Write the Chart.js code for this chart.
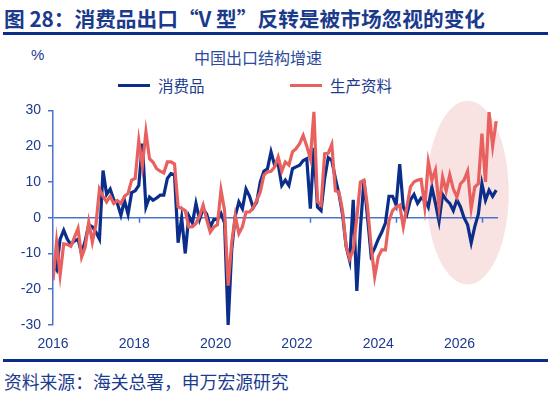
<!DOCTYPE html>
<html>
<head>
<meta charset="utf-8">
<script src="https://cdn.jsdelivr.net/npm/chart.js@4.4.1/dist/chart.umd.min.js"></script>
<style>
  body { margin: 0; background: #fff; }
  #page { position: relative; width: 551px; height: 396px; overflow: hidden; font-family: "Noto Sans CJK SC", "Liberation Sans", sans-serif; color: #1c3b8e; }
  #title { position: absolute; left: 4px; top: 3px; font-size: 20.7px; font-weight: bold; white-space: nowrap; color: #1a3a8c; }
  .rule { position: absolute; left: 3px; width: 545px; height: 3px; background: #0a2d8c; }
  #unit { position: absolute; left: 31px; top: 46px; font: 15px "Liberation Sans", sans-serif; }
  #subtitle { position: absolute; left: 194px; top: 45px; font-size: 16px; white-space: nowrap; color: #2b4a9c; }
  .lg { position: absolute; top: 74px; font-size: 15.5px; white-space: nowrap; color: #1c3b8e; }
  .lg i { display: inline-block; width: 32px; height: 3px; vertical-align: middle; margin-right: 8px; position: relative; top: -2px; }
  #wrap { position: absolute; left: 0; top: 95px; width: 551px; height: 257px; }
  #source { position: absolute; left: 4px; top: 368px; font-size: 17.8px; white-space: nowrap; color: #1c3b8e; }
</style>
</head>
<body>
<div id="page">
  <div id="title">图 28：消费品出口“V 型”反转是被市场忽视的变化</div>
  <div class="rule" style="top:32px"></div>
  <div id="unit">%</div>
  <div id="subtitle">中国出口结构增速</div>
  <div class="lg" style="left:118px"><i style="background:#0b2e8a"></i>消费品</div>
  <div class="lg" style="left:290px"><i style="background:#e8615f"></i>生产资料</div>
  <div id="wrap"><canvas id="chart"></canvas></div>
  <div class="rule" style="top:359px"></div>
  <div id="source">资料来源：海关总署，申万宏源研究</div>
</div>

<script>
// ── 数据 ─────────────────────────────────────────
const startYear = 2016;
const yearLabels = ['2016', '2018', '2020', '2022', '2024', '2026'];

// 消费品出口增速（%），月度
const consumerGoods = [
  -12.8, -14.5, -6, -3.5, -6, -7.5, -6.5, -6, -10, -6.5, -2, -2.5,
  -4, -6, 13.2, 6.5, 8, 5, 4, 0.7, 4.8, 1, 7, 7.5,
  9, 20.7, 3, 5.8, 4.9, 5.5, 6.3, 6.3, 11, 12.3, 12, -7,
  0, -10, 0.5, -1.5, 4, -0.5, 2.5, 1, -2.6, -0.5, -0.5, 1.2,
  -1.5, -30, -9, 0.5, 4.4, 2.5, 8, 6, 2.8, 4.4, 10, 13,
  13.7, 18.4, 14.7, 15, 9, 10.5, 9, 13.7, 14.2, 14.7, 16, 16.5,
  2.5, 19.5, 3, 2, 11, 16.8, 16, 11, 6.7, 1, -8, -12,
  5, -20.5, -3, 10.5, 0, -10.5, -8.5, -6, -4, -1.5, 6, 6,
  3.5, 15, 3, 1, 5, 6.5, 4, 5.5, 5, 3, 8.5, 4,
  -1, 6.5, 5, 4, 2, 5, 3, 0, -2, -7, -2.5, 1,
  9.5, 4.9, 7.7, 6, 7.7
];

// 生产资料出口增速（%），月度
const capitalGoods = [
  -17.5, -6.8, -16, -7.3, -7.5, -8, -5.5, -3, -11, -8.2, -1.2, -6.8,
  -2, 8, 6, 4.4, 6, 4, 4.8, 4, 6, 6.8, 10.5, 11,
  21.6, 14.5, 24, 16.5, 15.5, 13.7, 13, 12.5, 15.6, 15.6, 15, 3,
  2.6, 2, -2.6, -2.5, -1.6, 0.5, 3.5, -0.5, -4, -2.6, -2, 7.7,
  2, -19, -7, 0.5, -4.4, -2.5, 1.6, 1.6, 2.8, 4.9, 7.2, 11.9,
  12.8, 13, 14.2, 17, 13, 15.6, 14.7, 18.4, 19.3, 20.7, 23, 20,
  16.5, 29.6, 4.5, 3.5, 17.9, 18, 20.5, 7.5, 7.2, 2, -8, -11.5,
  -9, 0, 10, 10.5, 3, -8, -16.5, -11, -9, -9, -1, 2,
  3, 3.5, -2.5, 3, 8.6, 10, 10.5, 10.7, 3, 15.6, 10.5, 13.3,
  3, 11.4, 7.5, 12, 8, 5.8, 9.5, 10.5, 13, 2.6, 8.6, 9.5,
  23.5, 10, 29.5, 20, 27
];

const yTicks = [-30, -20, -10, 0, 10, 20, 30];

// 月份类别
const months = consumerGoods.map((_, i) =>
  `${startYear + Math.floor(i / 12)}-${String(i % 12 + 1).padStart(2, '0')}`);

// ── 样式 ─────────────────────────────────────────
const AXIS_BLUE = '#4a74cc';
const TEXT_BLUE = '#1c3b8e';
const LABEL_STEP = 22.75;   // 参考图中年份标签的间距（月）

// 右侧粉色椭圆高亮
const highlightPlugin = {
  id: 'highlight',
  beforeDraw(chart) {
    const { ctx, scales: { x, y } } = chart;
    const cx = x.getPixelForValue(116), cy = y.getPixelForValue(7);
    const rx = x.getPixelForValue(116 + 11.5) - cx;
    const ry = y.getPixelForValue(0) - y.getPixelForValue(25.7);
    ctx.save();
    ctx.fillStyle = '#f9e2e2';
    ctx.beginPath();
    ctx.ellipse(cx, cy, rx, ry, 0, 0, Math.PI * 2);
    ctx.fill();
    ctx.restore();
  }
};

// 零轴上的小刻度（每两年）
const zeroTicksPlugin = {
  id: 'zeroTicks',
  beforeDatasetsDraw(chart) {
    const { ctx, scales: { x, y } } = chart;
    const y0 = y.getPixelForValue(0);
    ctx.save();
    ctx.strokeStyle = AXIS_BLUE;
    ctx.lineWidth = 1.5;
    yearLabels.forEach((_, i) => {
      if (i === 0) return;
      const px = Math.round(x.getPixelForValue(i * 24)) + 0.5;
      ctx.beginPath();
      ctx.moveTo(px, y0);
      ctx.lineTo(px, y0 + 5);
      ctx.stroke();
    });
    ctx.restore();
  }
};

new Chart(document.getElementById('chart'), {
  type: 'line',
  data: {
    labels: months,
    datasets: [
      {
        label: '消费品',
        data: consumerGoods.map((v, i) => ({ x: i, y: v })),
        borderColor: '#0b2e8a',
        borderWidth: 3.2,
        pointRadius: 0,
        tension: 0,
        order: 2,
      },
      {
        label: '生产资料',
        data: capitalGoods.map((v, i) => ({ x: i, y: v })),
        borderColor: '#e8615f',
        borderWidth: 3.2,
        pointRadius: 0,
        tension: 0,
        order: 1,
      },
    ],
  },
  options: {
    responsive: true,
    maintainAspectRatio: false,
    animation: false,
    layout: { padding: { top: 15, right: 53, left: 0, bottom: 0 } },
    plugins: { legend: { display: false }, tooltip: { enabled: false } },
    scales: {
      x: {
        type: 'linear',
        min: 0,
        max: 124.5,
        grid: { display: false },
        border: { display: false },
        afterBuildTicks: s => { s.ticks = yearLabels.map((_, i) => ({ value: i * LABEL_STEP })); },
        afterFit: s => { s.height = 27; },
        ticks: {
          color: TEXT_BLUE,
          padding: 3,
          maxRotation: 0,
          autoSkip: false,
          font: { family: 'Liberation Sans', size: 14 },
          callback: (v, i) => yearLabels[i],
        },
      },
      y: {
        min: -30,
        max: 30,
        afterBuildTicks: s => { s.ticks = yTicks.map(v => ({ value: v })); },
        afterFit: s => { s.width = 53; },
        grid: {
          color: c => (c.tick && c.tick.value === 0 ? AXIS_BLUE : 'rgba(0,0,0,0)'),
          lineWidth: 1.5,
          tickColor: AXIS_BLUE,
          tickLength: 5,
        },
        border: { display: true, color: AXIS_BLUE, width: 1.5 },
        ticks: {
          color: TEXT_BLUE,
          padding: 7,
          font: { family: 'Liberation Sans', size: 14 },
        },
      },
    },
  },
  plugins: [highlightPlugin, zeroTicksPlugin],
});
</script>
</body>
</html>
